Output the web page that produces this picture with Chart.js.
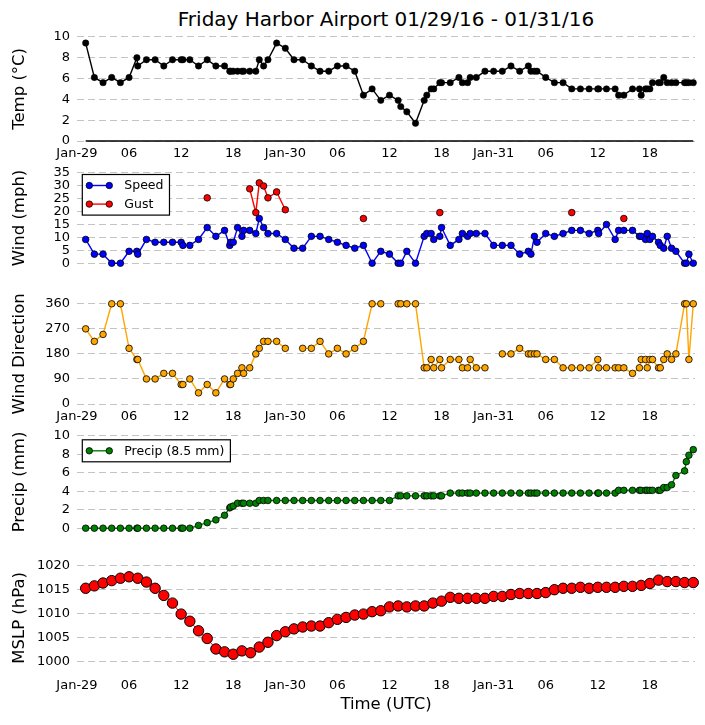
<!DOCTYPE html>
<html>
<head>
<meta charset="utf-8">
<title>Friday Harbor Airport 01/29/16 - 01/31/16</title>
<script src="https://cdn.jsdelivr.net/npm/chart.js@4.4.1/dist/chart.umd.min.js"></script>
<style>
  html, body { margin: 0; padding: 0; background: #fff; }
  #page { position: relative; width: 705px; height: 725px; overflow: hidden; font-family: 'DejaVu Sans', sans-serif; }
  #title { position: absolute; left: 77px; width: 618px; top: 7px; line-height: 24px; font-size: 20px; text-align: center; color: #000; }
  .panel { position: absolute; left: 0; width: 705px; }
</style>
</head>
<body>
<div id="page">
  <div id="title">Friday Harbor Airport 01/29/16 - 01/31/16</div>
</div>
<script>
// Heures depuis Jan-29 00 UTC de chaque observation (METAR + speciales)
const obsHours = [
  1, 2, 3, 4, 5, 6, 6.9, 7, 8, 9,
  10, 11, 12, 12.2, 13, 14, 15, 16, 17, 17.6,
  17.7, 18, 18.5, 19, 19.2, 19.9, 20.6, 21, 21.5, 22,
  23, 24, 25, 26, 27, 28, 29, 30, 31, 32,
  33, 34, 35, 36, 37, 37.3, 38, 39, 40, 40.3,
  40.8, 41.1, 41.8, 42, 43, 44, 44.4, 45, 45.3, 46,
  47, 48, 49, 50, 51, 52, 52.3, 52.7, 53, 54,
  55, 56, 57, 58, 59, 60, 60.1, 61, 62, 62.4,
  63, 64, 64.8, 65, 65.5, 65.7, 66, 66.3, 67, 67.2,
  67.6, 68, 68.5, 69, 70, 70.2, 70.5, 71
];

// Temperature (C)
const tempC = [
  9.4, 6.1, 5.6, 6.1, 5.6, 6.1, 8.0, 7.2, 7.8, 7.8,
  7.2, 7.8, 7.8, 7.8, 7.8, 7.2, 7.8, 7.2, 7.2, 6.7,
  6.7, 6.7, 6.7, 6.7, 6.7, 6.7, 6.7, 7.8, 7.2, 7.8,
  9.4, 8.9, 7.8, 7.8, 7.2, 6.7, 6.7, 7.2, 7.2, 6.7,
  4.4, 5.0, 3.9, 4.4, 3.9, 3.3, 2.8, 1.7, 3.9, 4.4,
  5.0, 5.0, 5.6, 5.6, 5.6, 6.1, 5.6, 5.6, 6.1, 6.1,
  6.7, 6.7, 6.7, 7.2, 6.7, 7.2, 6.7, 6.7, 6.7, 6.1,
  5.6, 5.6, 5.0, 5.0, 5.0, 5.0, 5.0, 5.0, 5.0, 4.4,
  4.4, 5.0, 5.0, 4.4, 5.0, 5.0, 5.0, 5.6, 5.6, 5.6,
  6.1, 5.6, 5.6, 5.6, 5.6, 5.6, 5.6, 5.6
];

// Vent moyen (mph)
const windSpeed = [
  9.2, 3.5, 3.5, 0, 0, 4.6, 4.6, 3.5, 9.2, 8.1,
  8.1, 8.1, 8.1, 6.9, 6.9, 9.2, 13.8, 10.4, 12.7, 6.9,
  8.1, 8.1, 13.8, 10.4, 12.7, 12.7, 11.5, 17.3, 13.8, 11.5,
  11.5, 9.2, 5.8, 5.8, 10.4, 10.4, 9.2, 8.1, 6.9, 5.8,
  6.9, 0, 4.6, 3.5, 0, 0, 4.6, 0, 10.4, 11.5,
  11.5, 9.2, 10.4, 13.8, 6.9, 9.2, 11.5, 10.4, 11.5, 11.5,
  11.5, 6.9, 6.9, 6.9, 3.5, 4.6, 3.5, 10.4, 8.1, 11.5,
  10.4, 11.5, 12.7, 12.7, 11.5, 12.7, 11.5, 15.0, 9.2, 12.7,
  12.7, 12.7, 10.4, 10.4, 9.2, 11.5, 9.2, 10.4, 8.1, 6.9,
  5.8, 10.4, 5.8, 4.6, 0, 0, 3.5, 0
];

// Rafales (mph), null = pas de rafale
const windGust = [
  null, null, null, null, null, null, null, null, null, null,
  null, null, null, null, null, null, 25.3, null, null, null,
  null, null, null, null, null, 28.8, 19.6, 31.1, 29.9, 25.3,
  27.6, 20.7, null, null, null, null, null, null, null, null,
  17.3, null, null, null, null, null, null, null, null, null,
  null, null, 19.6, null, null, null, null, null, null, null,
  null, null, null, null, null, null, null, null, null, null,
  null, null, 19.6, null, null, null, null, null, null, null,
  17.3, null, null, null, null, null, null, null, null, null,
  null, null, null, null, null, null, null, null
];

// Direction du vent (deg), null = variable
const windDir = [
  270, 225, 250, 360, 360, 200, 160, 160, 90, 90,
  110, 110, 70, 70, 90, 40, 70, 40, 90, 70,
  70, 90, 110, 130, 110, 130, 180, 200, 225, 225,
  225, 200, null, 200, 200, 225, 180, 200, 180, 200,
  225, 360, 360, null, 360, 360, 360, 360, 130, 130,
  160, 130, 160, 130, 160, 160, 130, 130, 160, 130,
  130, null, 180, 180, 200, 180, 180, 180, 180, 160,
  160, 130, 130, 130, 130, 160, 130, 130, 130, 130,
  130, 110, 130, 160, 160, 130, 160, 160, 130, 130,
  160, 180, 160, 180, 360, 360, 160, 360
];

// Precipitations cumulees (mm)
const precipMm = [
  0, 0, 0, 0, 0, 0, 0, 0, 0, 0,
  0, 0, 0, 0, 0, 0.3, 0.6, 0.9, 1.4, 2.2,
  2.3, 2.4, 2.7, 2.7, 2.7, 2.7, 2.7, 3.0, 3.0, 3.0,
  3.0, 3.0, 3.0, 3.0, 3.0, 3.0, 3.0, 3.0, 3.0, 3.0,
  3.0, 3.0, 3.0, 3.0, 3.5, 3.5, 3.5, 3.5, 3.5, 3.5,
  3.5, 3.5, 3.5, 3.5, 3.8, 3.8, 3.8, 3.8, 3.8, 3.8,
  3.8, 3.8, 3.8, 3.8, 3.8, 3.8, 3.8, 3.8, 3.8, 3.8,
  3.8, 3.8, 3.8, 3.8, 3.8, 3.8, 3.8, 3.8, 3.8, 4.1,
  4.1, 4.1, 4.1, 4.1, 4.1, 4.1, 4.1, 4.1, 4.1, 4.1,
  4.4, 4.4, 4.7, 5.7, 6.2, 7.2, 7.9, 8.5
];

// Pression au niveau de la mer (hPa), observations horaires
const slpHours = [
  1, 2, 3, 4, 5, 6, 7, 8, 9, 10,
  11, 12, 13, 14, 15, 16, 17, 18, 19, 20,
  21, 22, 23, 24, 25, 26, 27, 28, 29, 30,
  31, 32, 33, 34, 35, 36, 37, 38, 39, 40,
  41, 42, 43, 44, 45, 46, 47, 48, 49, 50,
  51, 52, 53, 54, 55, 56, 57, 58, 59, 60,
  61, 62, 63, 64, 65, 66, 67, 68, 69, 70,
  71
];
const slpHpa = [
  1015.3, 1015.8, 1016.4, 1016.9, 1017.4, 1017.7, 1017.4, 1016.6, 1015.3, 1013.8,
  1012.2, 1009.9, 1008.4, 1006.4, 1004.8, 1002.6, 1002.0, 1001.5, 1002.2, 1001.8,
  1003.0, 1004.0, 1005.4, 1006.2, 1006.8, 1007.2, 1007.4, 1007.4, 1008.1, 1008.8,
  1009.2, 1009.7, 1009.9, 1010.4, 1010.6, 1011.4, 1011.6, 1011.4, 1011.6, 1011.6,
  1012.2, 1012.6, 1013.4, 1013.2, 1013.2, 1013.2, 1013.2, 1013.6, 1013.6, 1014.0,
  1014.2, 1014.2, 1014.2, 1014.4, 1015.0, 1015.3, 1015.3, 1015.5, 1015.3, 1015.5,
  1015.5, 1015.5, 1015.7, 1015.7, 1015.9, 1016.3, 1017.0, 1016.7, 1016.7, 1016.5,
  1016.5
];

// Graduations
const xTickHours = [0, 6, 12, 18, 24, 30, 36, 42, 48, 54, 60, 66];
const xTickLabels = ['Jan-29', '06', '12', '18', 'Jan-30', '06', '12', '18', 'Jan-31', '06', '12', '18'];
const tempTicks = [0, 2, 4, 6, 8, 10];
const windTicks = [0, 5, 10, 15, 20, 25, 30, 35];
const dirTicks = [0, 90, 180, 270, 360];
const precipTicks = [0, 2, 4, 6, 8, 10];
const slpTicks = [1000, 1005, 1010, 1015, 1020];

const FONT = "'DejaVu Sans', sans-serif";
Chart.defaults.font.family = FONT;
Chart.defaults.color = '#000';
Chart.defaults.animation = false;

function pts(xs, ys) {
    return xs.map((x, i) => ({ x: x, y: ys[i] }));
}

// Legende encadree dans la zone du graphique (style matplotlib)
const boxLegend = {
    id: 'boxLegend',
    afterDatasetsDraw(chart, args, opts) {
        if (!opts || !opts.show) return;
        const ctx = chart.ctx;
        const area = chart.chartArea;
        const sets = chart.data.datasets.filter(d => !d.noLegend);
        ctx.save();
        ctx.font = '12.5px ' + FONT;
        const textW = Math.max(...sets.map(d => ctx.measureText(d.label).width));
        const x0 = area.left + opts.dx;
        const y0 = area.top + opts.dy;
        const rowH = 18.6, padY = 11;
        const w = 7 + 20 + 15 + textW + 6;
        const h = padY * 2 + rowH * (sets.length - 1);
        ctx.fillStyle = '#fff';
        ctx.fillRect(x0, y0, w, h);
        ctx.strokeStyle = '#000';
        ctx.lineWidth = 1.2;
        ctx.strokeRect(x0, y0, w, h);
        sets.forEach((d, i) => {
            const cy = y0 + padY + i * rowH;
            const sx = x0 + 7, ex = sx + 20;
            ctx.strokeStyle = d.borderColor;
            ctx.lineWidth = d.borderWidth;
            ctx.beginPath();
            ctx.moveTo(sx, cy);
            ctx.lineTo(ex, cy);
            ctx.stroke();
            [sx, ex].forEach(px => {
                ctx.beginPath();
                ctx.arc(px, cy, 3.2, 0, Math.PI * 2);
                ctx.fillStyle = d.pointBackgroundColor;
                ctx.fill();
                ctx.lineWidth = 0.8;
                ctx.strokeStyle = '#000';
                ctx.stroke();
            });
            ctx.fillStyle = '#000';
            ctx.textAlign = 'left';
            ctx.textBaseline = 'middle';
            ctx.fillText(d.label, ex + 15, cy + 0.5);
        });
        ctx.restore();
    }
};

function series(label, data, color, radius, extra) {
    return Object.assign({
        label: label,
        data: data,
        borderColor: color,
        borderWidth: 1.4,
        pointRadius: radius,
        pointBackgroundColor: color,
        pointBorderColor: '#000',
        pointBorderWidth: 0.8,
        spanGaps: false,
        clip: false,
        tension: 0
    }, extra || {});
}

function makePanel(cfg) {
    const top = Math.floor(cfg.areaTop - 10);
    const bottomEdge = Math.round(cfg.areaBottom + cfg.below);
    const below = bottomEdge - cfg.areaBottom;

    const div = document.createElement('div');
    div.className = 'panel';
    div.style.top = top + 'px';
    div.style.height = (bottomEdge - top) + 'px';
    const canvas = document.createElement('canvas');
    div.appendChild(canvas);
    document.getElementById('page').appendChild(div);

    return new Chart(canvas, {
        type: 'line',
        data: { datasets: cfg.datasets },
        plugins: [boxLegend],
        options: {
            responsive: true,
            maintainAspectRatio: false,
            events: [],
            layout: {
                padding: { left: 0, right: 10, top: cfg.areaTop - top, bottom: cfg.showX ? 0 : below }
            },
            plugins: {
                legend: { display: false },
                tooltip: { enabled: false },
                boxLegend: cfg.legend || { show: false }
            },
            scales: {
                x: {
                    type: 'linear',
                    min: 0,
                    max: 71.2,
                    display: cfg.showX,
                    grid: { display: false, drawTicks: false },
                    border: { display: false },
                    afterBuildTicks: s => { s.ticks = xTickHours.map(v => ({ value: v })); },
                    afterFit: s => { s.height = cfg.showX ? below : 0; },
                    ticks: {
                        autoSkip: false,
                        maxRotation: 0,
                        padding: cfg.xTickPad || 5,
                        font: { size: 13 },
                        callback: v => xTickLabels[xTickHours.indexOf(v)]
                    },
                    title: {
                        display: !!cfg.xTitle,
                        text: cfg.xTitle || '',
                        font: { size: 16.5 },
                        padding: { top: 0, bottom: 4 }
                    }
                },
                y: {
                    min: cfg.yMin,
                    max: cfg.yMax,
                    afterBuildTicks: s => { s.ticks = cfg.yTicks.map(v => ({ value: v })); },
                    afterFit: s => { s.width = 77; },
                    grid: { color: '#c4c4c4', lineWidth: 1, drawTicks: false },
                    border: { display: false, dash: [7, 4] },
                    ticks: {
                        autoSkip: false,
                        padding: 7,
                        font: { size: 13 },
                        callback: v => String(v)
                    },
                    title: {
                        display: true,
                        text: cfg.yTitle,
                        font: { size: 16.5 },
                        padding: { top: 10, bottom: 0 }
                    }
                }
            }
        }
    });
}

// Temperature
makePanel({
    areaTop: 32.3, areaBottom: 141, below: 25, showX: true,
    yMin: 0, yMax: 10, yTicks: tempTicks, yTitle: 'Temp (\u00B0C)',
    datasets: [
        series('Temp', pts(obsHours, tempC), '#000000', 3.2, { pointBorderWidth: 0.5, order: 1 }),
        series('', [{ x: obsHours[0], y: 0 }, { x: obsHours[obsHours.length - 1], y: 0 }], '#000000', 0,
            { borderWidth: 1.5, order: 2, noLegend: true })
    ]
});

// Vent
makePanel({
    areaTop: 168.3, areaBottom: 266, below: 12, showX: false,
    yMin: 0, yMax: 35, yTicks: windTicks, yTitle: 'Wind (mph)',
    legend: { show: true, dx: 5.3, dy: 1.7 },
    datasets: [
        series('Speed', pts(obsHours, windSpeed), '#0000ff', 3.3),
        series('Gust', pts(obsHours, windGust), '#ff0000', 3.3)
    ]
});

// Direction
makePanel({
    areaTop: 299, areaBottom: 404, below: 25, showX: true,
    yMin: 0, yMax: 360, yTicks: dirTicks, yTitle: 'Wind Direction',
    datasets: [
        series('Direction', pts(obsHours, windDir), '#ffa500', 3.3)
    ]
});

// Precipitations
makePanel({
    areaTop: 431, areaBottom: 531, below: 12, showX: false,
    yMin: 0, yMax: 10, yTicks: precipTicks, yTitle: 'Precip (mm)',
    legend: { show: true, dx: 5.3, dy: 4 },
    datasets: [
        series('Precip (' + precipMm[precipMm.length - 1] + ' mm)', pts(obsHours, precipMm), '#008000', 3.3)
    ]
});

// Pression
makePanel({
    areaTop: 561.7, areaBottom: 670, below: 49.2, showX: true, xTitle: 'Time (UTC)', xTickPad: 8,
    yMin: 998.2, yMax: 1020, yTicks: slpTicks, yTitle: 'MSLP (hPa)',
    datasets: [
        series('MSLP', pts(slpHours, slpHpa), '#ff0000', 5.2, { borderWidth: 1, pointBorderWidth: 1 })
    ]
});
</script>
</body>
</html>
